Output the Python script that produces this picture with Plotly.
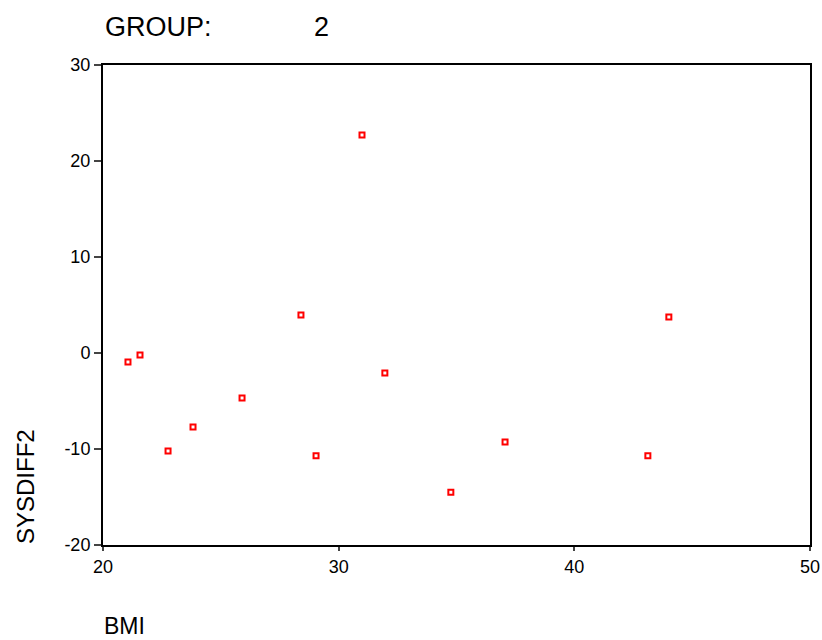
import plotly.graph_objects as go

bmi = [21.06, 21.57, 22.76, 23.82, 25.9, 28.4, 29.04, 30.99, 31.96, 34.76, 37.06, 43.12, 44.01]
sysdiff2 = [-0.94, -0.2, -10.2, -7.7, -4.7, 3.96, -10.7, 22.7, -2.08, -14.5, -9.27, -10.7, 3.75]
x_ticks = [20, 30, 40, 50]
x_labels = ["20", "30", "40", "50"]
y_ticks = [-20, -10, 0, 10, 20, 30]
y_labels = ["-20", "-10", "0", "10", "20", "30"]

FONT = "Liberation Sans, Arial, sans-serif"

W, H = 822, 640
l, r, t, b = 103, 12, 65, 95
pw, ph = W - l - r, H - t - b
def px(xp): return (xp - l) / pw
def py(yp): return (H - b - yp) / ph

fig = go.Figure(go.Scatter(
    x=bmi, y=sysdiff2, mode="markers",
    marker=dict(symbol="square-open", size=5, color="#ff0000", line=dict(width=2, color="#ff0000")),
    showlegend=False,
))

fig.update_layout(
    width=W, height=H,
    margin=dict(l=l, r=r, t=t, b=b, autoexpand=False),
    paper_bgcolor="white", plot_bgcolor="white",
    font=dict(family=FONT, color="black", size=18),
    xaxis=dict(range=[20, 50], tickvals=x_ticks, ticktext=x_labels, ticks="outside", ticklen=4,
               tickwidth=1.5, showgrid=False, zeroline=False, showline=True, linecolor="black",
               linewidth=2, mirror=True, automargin=False, tickfont=dict(size=18, family=FONT)),
    yaxis=dict(range=[-20, 30], tickvals=y_ticks, ticktext=y_labels, ticks="outside", ticklen=7,
               tickwidth=1.5, showgrid=False, zeroline=False, showline=True, linecolor="black",
               linewidth=2, mirror=True, automargin=False, tickfont=dict(size=18, family=FONT)),
)

fig.add_annotation(text="GROUP:", x=px(103), y=py(27), xref="paper", yref="paper", showarrow=False,
                   font=dict(size=27, family=FONT), xanchor="left", yanchor="middle")
fig.add_annotation(text="2", x=px(321), y=py(27), xref="paper", yref="paper", showarrow=False,
                   font=dict(size=27, family=FONT), xanchor="center", yanchor="middle")
fig.add_annotation(text="BMI", x=px(102), y=py(626), xref="paper", yref="paper", showarrow=False,
                   font=dict(size=23, family=FONT), xanchor="left", yanchor="middle")
fig.add_annotation(text="SYSDIFF2", x=px(25), y=py(487), xref="paper", yref="paper", showarrow=False,
                   textangle=-90, font=dict(size=24, family=FONT), xanchor="center", yanchor="middle")

fig.write_html("out.html", post_script="document.body.style.margin='0';",
               config={"displayModeBar": False})
